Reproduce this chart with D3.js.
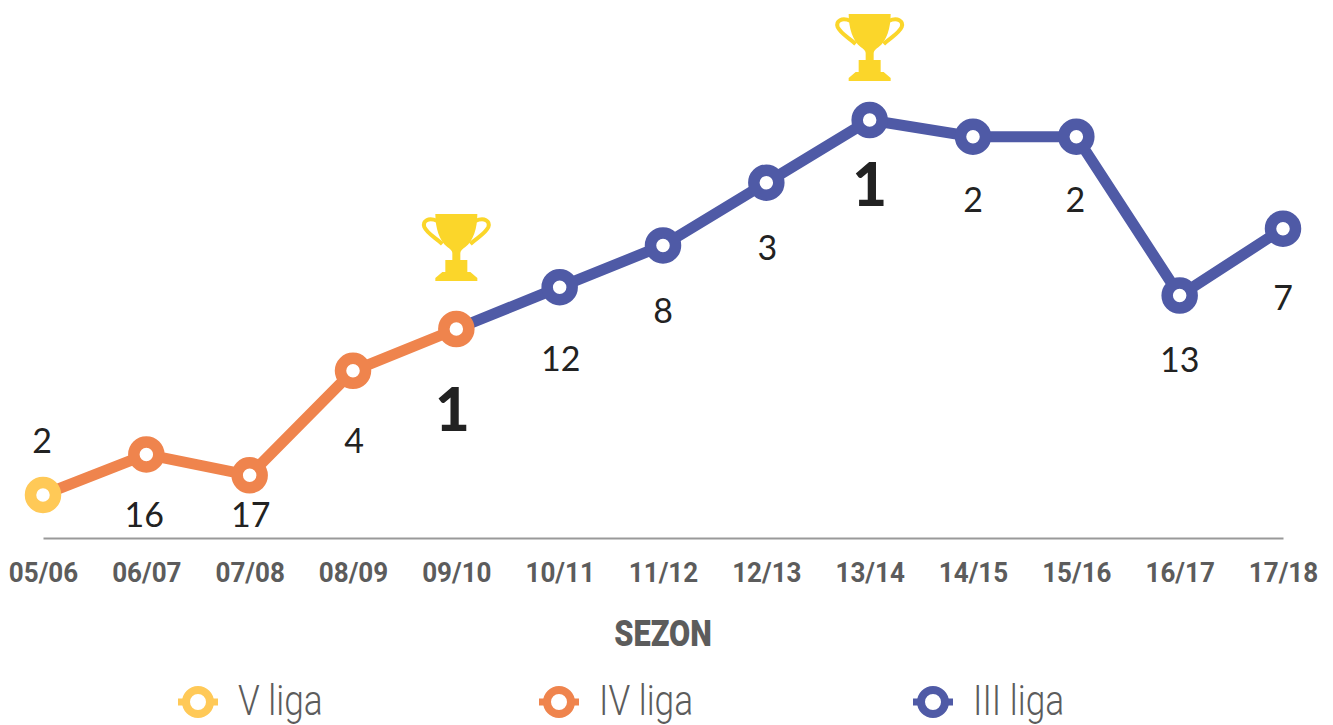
<!DOCTYPE html>
<html>
<head>
<meta charset="utf-8">
<script src="https://cdnjs.cloudflare.com/ajax/libs/d3/7.8.5/d3.min.js"></script>
<style>
  body { margin: 0; background: #fff; }
  svg { display: block; }
</style>
</head>
<body>
<div id="chart"></div>
<script>
var seasons = ['05/06', '06/07', '07/08', '08/09', '09/10', '10/11', '11/12', '12/13', '13/14', '14/15', '15/16', '16/17', '17/18'];
// league table position printed next to each point
var ranks = [2, 16, 17, 4, 1, 12, 8, 3, 1, 2, 2, 13, 7];
// height of each point on the chart's own (unlabelled) vertical scale
var levels = [1.03, 2.0, 1.5, 4.0, 5.0, 6.0, 7.0, 8.5, 10, 9.6, 9.6, 5.8, 7.4];
var leagues = ['V liga', 'IV liga', 'IV liga', 'IV liga', 'IV liga', 'III liga', 'III liga', 'III liga', 'III liga', 'III liga', 'III liga', 'III liga', 'III liga'];
var legendNames = ['V liga', 'IV liga', 'III liga'];
var titles = ['09/10', '13/14'];
var axisTitle = 'SEZON';

var chart_width = 1333;
var chart_height = 725;
var baseline = 538;

var league_colors = { 'V liga': '#FFC957', 'IV liga': '#EF844D', 'III liga': '#4F5AA6' };
var legend_x = { 'V liga': 198, 'IV liga': 559, 'III liga': 933 };

// label placement relative to the point, per season
var label_dy = [-54, 61, 40, 70, 81, 72, 66, 65, 65, 63, 63, 64, 69];
var label_dx = [-1, -2, 1, 1, -4, 1, 0, 1, 0, 0, -1, 0, 0];
var trophy_dy = { '09/10': -115, '13/14': -106 };

var svg = d3.select('#chart')
  .append('svg')
  .attr('width', chart_width)
  .attr('height', chart_height);

// create Scales
var x_scale = d3.scalePoint()
  .domain(seasons)
  .range([43, 1283]);

var y_scale = d3.scaleLinear()
  .domain([0, 10])
  .range([baseline, 120]);

// create Axis
var x_axis = d3.axisBottom(x_scale)
  .tickSize(0)
  .tickPadding(0);

var axis_g = svg.append('g')
  .attr('class', 'x-axis')
  .attr('transform', 'translate(0,' + baseline + ')')
  .call(x_axis);

axis_g.select('.domain')
  .attr('stroke', '#999')
  .attr('stroke-width', 2);

axis_g.selectAll('text')
  .attr('y', 44)
  .attr('dy', 0)
  .attr('transform', 'scale(0.93,1)')
  .attr('font-family', 'Roboto')
  .attr('font-weight', 700)
  .attr('font-size', 28)
  .attr('fill', '#5c5c5c');

svg.append('text')
  .attr('transform', 'translate(663,646) scale(0.83,1)')
  .attr('text-anchor', 'middle')
  .attr('font-family', 'Roboto')
  .attr('font-weight', 900)
  .attr('font-size', 37)
  .attr('fill', '#5c5c5c')
  .text(axisTitle);

// create lines, IV liga runs from the first point, III liga from the last IV liga point
var points = seasons.map(function(s, i) {
  return { season: s, rank: ranks[i], level: levels[i], league: leagues[i], i: i };
});

var line = d3.line()
  .x(function(d) { return x_scale(d.season); })
  .y(function(d) { return y_scale(d.level); });

var last_iv = leagues.lastIndexOf('IV liga');

svg.append('path')
  .datum(points.slice(last_iv))
  .attr('d', line)
  .attr('fill', 'none')
  .attr('stroke', league_colors['III liga'])
  .attr('stroke-width', 11);

svg.append('path')
  .datum(points.slice(0, last_iv + 1))
  .attr('d', line)
  .attr('fill', 'none')
  .attr('stroke', league_colors['IV liga'])
  .attr('stroke-width', 11);

// create circles
svg.append('g')
  .selectAll('circle')
  .data(points)
  .enter()
  .append('circle')
  .attr('cx', function(d) { return x_scale(d.season); })
  .attr('cy', function(d) { return y_scale(d.level); })
  .attr('r', 12.5)
  .attr('fill', '#fff')
  .attr('stroke', function(d) { return league_colors[d.league]; })
  .attr('stroke-width', 11.5);

// create labels
svg.append('g')
  .selectAll('text')
  .data(points)
  .enter()
  .append('text')
  .text(function(d) { return d.rank; })
  .attr('x', function(d) { return x_scale(d.season) + label_dx[d.i]; })
  .attr('y', function(d) { return y_scale(d.level) + label_dy[d.i]; })
  .attr('dy', function(d) { return d.rank === 1 ? 21 : 12; })
  .attr('text-anchor', 'middle')
  .attr('font-family', 'Lato')
  .attr('font-weight', function(d) { return d.rank === 1 ? 900 : 400; })
  .attr('font-size', function(d) { return d.rank === 1 ? 60 : 34; })
  .attr('fill', '#222');

// trophy shape, centred on x with its rim at y=0
var trophy_body = 'M-21,0 H21 C21,14 17,27 9,33 C6,35 4,37 4,39 V46 H11 V58 H14 L21,64 V67 H-21 V64 L-14,58 H-11 V46 H-4 V39 C-4,37 -6,35 -9,33 C-17,27 -21,14 -21,0 Z';
var trophy_handles = 'M-19,7 C-28,3 -34,7 -32,13 C-29,20 -20,24 -14,30 M19,7 C28,3 34,7 32,13 C29,20 20,24 14,30';

var trophies = svg.append('g')
  .selectAll('g')
  .data(titles)
  .enter()
  .append('g')
  .attr('transform', function(d) {
    var p = points[seasons.indexOf(d)];
    return 'translate(' + x_scale(d) + ',' + (y_scale(p.level) + trophy_dy[d]) + ')';
  });

trophies.append('path')
  .attr('d', trophy_body)
  .attr('fill', '#FBD62A');

trophies.append('path')
  .attr('d', trophy_handles)
  .attr('fill', 'none')
  .attr('stroke', '#FBD62A')
  .attr('stroke-width', 4);

// legend
var legend = svg.append('g')
  .selectAll('g')
  .data(legendNames)
  .enter()
  .append('g')
  .attr('transform', function(d) { return 'translate(' + legend_x[d] + ',702)'; });

legend.append('line')
  .attr('x1', -20)
  .attr('x2', 20)
  .attr('stroke', function(d) { return league_colors[d]; })
  .attr('stroke-width', 7);

legend.append('circle')
  .attr('r', 12)
  .attr('fill', '#fff')
  .attr('stroke', function(d) { return league_colors[d]; })
  .attr('stroke-width', 8);

legend.append('text')
  .attr('transform', 'translate(40,13) scale(0.84,1)')
  .attr('font-family', 'Roboto')
  .attr('font-weight', 300)
  .attr('font-size', 42)
  .attr('fill', '#5c5c5c')
  .text(function(d) { return d; });
</script>
</body>
</html>
